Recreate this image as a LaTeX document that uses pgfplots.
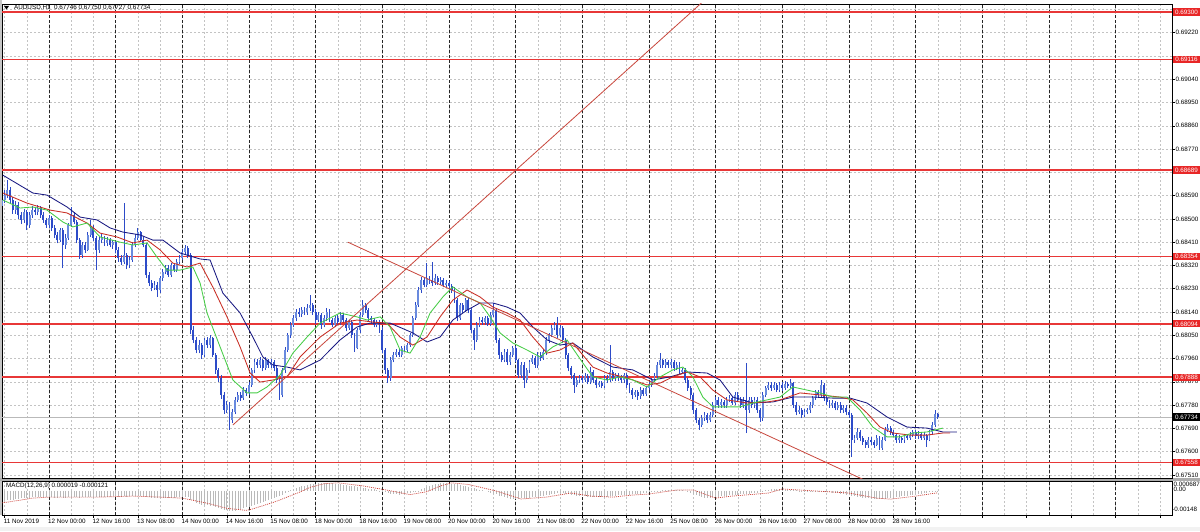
\documentclass[border=0pt]{standalone}
\usepackage{pgfplots}
\pgfplotsset{compat=1.18}
\usepackage{pgfplotstable}
\usepackage{fontspec}
\setmainfont{Liberation Sans}
\definecolor{candlec}{RGB}{45,75,200}
\definecolor{candlebull}{RGB}{105,138,222}
\definecolor{jawc}{RGB}{25,25,130}
\definecolor{teethc}{RGB}{200,45,35}
\definecolor{lipsc}{RGB}{70,205,70}
\definecolor{lvlred}{RGB}{232,55,55}
\definecolor{trendc}{RGB}{200,70,60}
\definecolor{gridc}{RGB}{195,195,195}
\definecolor{lblred}{RGB}{232,38,38}
\newcommand{\tk}{\fontsize{6.3}{7}\selectfont}

\pgfplotstableread{
b o h l c m
7 0.68550 0.68590 0.68530 0.68573 -0.00071
8 0.68573 0.68610 0.68560 0.68592 -0.00068
9 0.68592 0.68650 0.68580 0.68611 -0.00065
10 0.68611 0.68625 0.68560 0.68573 -0.00062
11 0.68573 0.68585 0.68520 0.68534 -0.00059
12 0.68534 0.68570 0.68520 0.68553 -0.00055
13 0.68553 0.68565 0.68500 0.68515 -0.00052
14 0.68515 0.68525 0.68480 0.68496 -0.00049
15 0.68496 0.68540 0.68485 0.68527 -0.00048
16 0.68527 0.68535 0.68457 0.68476 -0.00047
17 0.68476 0.68525 0.68465 0.68515 -0.00046
18 0.68515 0.68550 0.68505 0.68534 -0.00044
19 0.68534 0.68545 0.68515 0.68527 -0.00043
20 0.68527 0.68555 0.68515 0.68542 -0.00042
21 0.68542 0.68550 0.68505 0.68515 -0.00042
22 0.68515 0.68525 0.68485 0.68496 -0.00043
23 0.68496 0.68505 0.68465 0.68476 -0.00044
24 0.68476 0.68515 0.68465 0.68503 -0.00043
25 0.68503 0.68510 0.68455 0.68465 -0.00044
26 0.68465 0.68475 0.68425 0.68438 -0.00045
27 0.68438 0.68450 0.68405 0.68418 -0.00046
28 0.68418 0.68465 0.68410 0.68457 -0.00044
29 0.68457 0.68465 0.68310 0.68399 -0.00046
30 0.68399 0.68440 0.68385 0.68426 -0.00045
31 0.68426 0.68485 0.68420 0.68476 -0.00042
32 0.68476 0.68546 0.68470 0.68515 -0.00039
33 0.68515 0.68525 0.68480 0.68488 -0.00039
34 0.68488 0.68495 0.68405 0.68418 -0.00042
35 0.68418 0.68425 0.68345 0.68360 -0.00045
36 0.68360 0.68410 0.68350 0.68399 -0.00044
37 0.68399 0.68410 0.68370 0.68381 -0.00044
38 0.68381 0.68450 0.68375 0.68438 -0.00042
39 0.68438 0.68496 0.68430 0.68465 -0.00040
40 0.68465 0.68475 0.68415 0.68426 -0.00040
41 0.68426 0.68435 0.68302 0.68381 -0.00041
42 0.68381 0.68430 0.68370 0.68418 -0.00040
43 0.68418 0.68440 0.68405 0.68426 -0.00039
44 0.68426 0.68435 0.68395 0.68407 -0.00039
45 0.68407 0.68430 0.68395 0.68418 -0.00038
46 0.68418 0.68425 0.68390 0.68399 -0.00038
47 0.68399 0.68420 0.68385 0.68410 -0.00037
48 0.68410 0.68415 0.68370 0.68381 -0.00037
49 0.68381 0.68390 0.68335 0.68349 -0.00038
50 0.68349 0.68360 0.68320 0.68333 -0.00039
51 0.68333 0.68561 0.68325 0.68360 -0.00037
52 0.68360 0.68370 0.68305 0.68321 -0.00038
53 0.68321 0.68355 0.68310 0.68341 -0.00037
54 0.68341 0.68410 0.68335 0.68399 -0.00035
55 0.68399 0.68440 0.68390 0.68426 -0.00033
56 0.68426 0.68465 0.68420 0.68449 -0.00032
57 0.68449 0.68455 0.68410 0.68418 -0.00033
58 0.68418 0.68430 0.68390 0.68399 -0.00035
59 0.68399 0.68405 0.68270 0.68283 -0.00040
60 0.68283 0.68295 0.68240 0.68252 -0.00044
61 0.68252 0.68265 0.68220 0.68233 -0.00047
62 0.68233 0.68260 0.68225 0.68244 -0.00048
63 0.68244 0.68255 0.68198 0.68225 -0.00050
64 0.68225 0.68280 0.68215 0.68271 -0.00049
65 0.68271 0.68305 0.68260 0.68294 -0.00048
66 0.68294 0.68320 0.68285 0.68310 -0.00046
67 0.68310 0.68320 0.68275 0.68283 -0.00046
68 0.68283 0.68330 0.68275 0.68321 -0.00045
69 0.68321 0.68330 0.68295 0.68302 -0.00045
70 0.68302 0.68345 0.68295 0.68333 -0.00044
71 0.68333 0.68360 0.68325 0.68349 -0.00043
72 0.68349 0.68385 0.68340 0.68372 -0.00042
73 0.68372 0.68399 0.68360 0.68387 -0.00041
74 0.68387 0.68395 0.68350 0.68360 -0.00043
75 0.68360 0.68370 0.68055 0.68070 -0.00060
76 0.68070 0.68085 0.68020 0.68032 -0.00072
77 0.68032 0.68045 0.67980 0.67993 -0.00083
78 0.67993 0.68030 0.67980 0.68012 -0.00089
79 0.68012 0.68020 0.67960 0.67974 -0.00095
80 0.67974 0.68040 0.67965 0.68032 -0.00097
81 0.68032 0.68045 0.68000 0.68012 -0.00099
82 0.68012 0.68051 0.68000 0.68039 -0.00100
83 0.68039 0.68045 0.67965 0.67974 -0.00104
84 0.67974 0.67980 0.67900 0.67916 -0.00110
85 0.67916 0.67925 0.67870 0.67885 -0.00116
86 0.67885 0.67895 0.67805 0.67819 -0.00123
87 0.67819 0.67830 0.67745 0.67761 -0.00130
88 0.67761 0.67795 0.67750 0.67780 -0.00133
89 0.67780 0.67790 0.67684 0.67722 -0.00138
90 0.67722 0.67765 0.67710 0.67753 -0.00138
91 0.67753 0.67810 0.67745 0.67800 -0.00135
92 0.67800 0.67830 0.67790 0.67819 -0.00130
93 0.67819 0.67830 0.67795 0.67807 -0.00125
94 0.67807 0.67850 0.67800 0.67838 -0.00119
95 0.67838 0.67845 0.67815 0.67827 -0.00113
96 0.67827 0.67870 0.67820 0.67858 -0.00107
97 0.67858 0.67925 0.67850 0.67916 -0.00100
98 0.67916 0.67960 0.67905 0.67947 -0.00094
99 0.67947 0.67960 0.67925 0.67935 -0.00088
100 0.67935 0.67965 0.67925 0.67954 -0.00083
101 0.67954 0.67960 0.67910 0.67923 -0.00077
102 0.67923 0.67965 0.67915 0.67954 -0.00070
103 0.67954 0.67960 0.67925 0.67935 -0.00063
104 0.67935 0.67960 0.67925 0.67947 -0.00056
105 0.67947 0.67955 0.67910 0.67923 -0.00049
106 0.67923 0.67930 0.67865 0.67877 -0.00042
107 0.67877 0.67885 0.67800 0.67819 -0.00036
108 0.67819 0.67925 0.67810 0.67916 -0.00026
109 0.67916 0.68005 0.67905 0.67993 -0.00016
110 0.67993 0.68060 0.67985 0.68051 -0.00006
111 0.68051 0.68100 0.68040 0.68090 0.00004
112 0.68090 0.68130 0.68080 0.68117 0.00013
113 0.68117 0.68150 0.68105 0.68140 0.00021
114 0.68140 0.68155 0.68120 0.68132 0.00027
115 0.68132 0.68160 0.68120 0.68147 0.00032
116 0.68147 0.68160 0.68130 0.68140 0.00037
117 0.68140 0.68170 0.68130 0.68155 0.00042
118 0.68155 0.68205 0.68145 0.68167 0.00047
119 0.68167 0.68175 0.68130 0.68140 0.00050
120 0.68140 0.68150 0.68095 0.68109 0.00051
121 0.68109 0.68140 0.68100 0.68128 0.00053
122 0.68128 0.68135 0.68075 0.68090 0.00054
123 0.68090 0.68130 0.68080 0.68117 0.00055
124 0.68117 0.68155 0.68105 0.68140 0.00056
125 0.68140 0.68150 0.68100 0.68109 0.00054
126 0.68109 0.68115 0.68080 0.68090 0.00052
127 0.68090 0.68125 0.68080 0.68117 0.00050
128 0.68117 0.68130 0.68090 0.68101 0.00047
129 0.68101 0.68140 0.68090 0.68128 0.00045
130 0.68128 0.68135 0.68100 0.68109 0.00042
131 0.68109 0.68115 0.68065 0.68078 0.00040
132 0.68078 0.68110 0.68070 0.68101 0.00037
133 0.68101 0.68110 0.68040 0.68051 0.00035
134 0.68051 0.68060 0.67985 0.68001 0.00032
135 0.68001 0.68080 0.67995 0.68070 0.00029
136 0.68070 0.68140 0.68060 0.68128 0.00026
137 0.68128 0.68186 0.68120 0.68167 0.00023
138 0.68167 0.68175 0.68135 0.68147 0.00020
139 0.68147 0.68155 0.68105 0.68117 0.00017
140 0.68117 0.68125 0.68095 0.68109 0.00014
141 0.68109 0.68115 0.68080 0.68090 0.00011
142 0.68090 0.68110 0.68080 0.68101 0.00008
143 0.68101 0.68110 0.68060 0.68070 0.00003
144 0.68070 0.68080 0.67980 0.67993 -0.00003
145 0.67993 0.68000 0.67900 0.67916 -0.00010
146 0.67916 0.67925 0.67865 0.67885 -0.00015
147 0.67885 0.67965 0.67875 0.67954 -0.00018
148 0.67954 0.67985 0.67945 0.67974 -0.00021
149 0.67974 0.67995 0.67965 0.67985 -0.00023
150 0.67985 0.67995 0.67965 0.67974 -0.00025
151 0.67974 0.68010 0.67965 0.68001 -0.00022
152 0.68001 0.68010 0.67985 0.67993 -0.00019
153 0.67993 0.68020 0.67985 0.68012 -0.00016
154 0.68012 0.68060 0.68005 0.68051 -0.00012
155 0.68051 0.68125 0.68045 0.68117 -0.00009
156 0.68117 0.68180 0.68110 0.68167 -0.00005
157 0.68167 0.68235 0.68160 0.68225 0.00003
158 0.68225 0.68275 0.68215 0.68264 0.00011
159 0.68264 0.68275 0.68235 0.68244 0.00019
160 0.68244 0.68329 0.68235 0.68271 0.00027
161 0.68271 0.68280 0.68250 0.68264 0.00035
162 0.68264 0.68333 0.68240 0.68252 0.00040
163 0.68252 0.68285 0.68245 0.68271 0.00045
164 0.68271 0.68280 0.68245 0.68256 0.00050
165 0.68256 0.68275 0.68245 0.68264 0.00056
166 0.68264 0.68270 0.68235 0.68244 0.00054
167 0.68244 0.68265 0.68235 0.68252 0.00052
168 0.68252 0.68260 0.68230 0.68240 0.00050
169 0.68240 0.68250 0.68215 0.68225 0.00049
170 0.68225 0.68235 0.68175 0.68186 0.00047
171 0.68186 0.68195 0.68105 0.68117 0.00045
172 0.68117 0.68175 0.68110 0.68167 0.00041
173 0.68167 0.68175 0.68135 0.68147 0.00036
174 0.68147 0.68195 0.68140 0.68186 0.00032
175 0.68186 0.68195 0.68135 0.68147 0.00027
176 0.68147 0.68155 0.68060 0.68070 0.00023
177 0.68070 0.68080 0.67993 0.68032 0.00018
178 0.68032 0.68100 0.68025 0.68090 0.00014
179 0.68090 0.68120 0.68080 0.68109 0.00009
180 0.68109 0.68120 0.68090 0.68101 0.00005
181 0.68101 0.68125 0.68090 0.68117 0.00000
182 0.68117 0.68125 0.68085 0.68094 -0.00006
183 0.68094 0.68140 0.68085 0.68128 -0.00012
184 0.68128 0.68175 0.68120 0.68147 -0.00018
185 0.68147 0.68155 0.68020 0.68032 -0.00024
186 0.68032 0.68040 0.67960 0.67974 -0.00031
187 0.67974 0.67985 0.67945 0.67954 -0.00037
188 0.67954 0.67995 0.67945 0.67985 -0.00043
189 0.67985 0.67995 0.67935 0.67947 -0.00049
190 0.67947 0.67985 0.67935 0.67974 -0.00055
191 0.67974 0.68010 0.67965 0.68001 -0.00054
192 0.68001 0.68010 0.67945 0.67954 -0.00053
193 0.67954 0.67960 0.67885 0.67896 -0.00052
194 0.67896 0.67945 0.67885 0.67935 -0.00050
195 0.67935 0.67945 0.67846 0.67877 -0.00049
196 0.67877 0.67925 0.67865 0.67916 -0.00048
197 0.67916 0.67955 0.67905 0.67947 -0.00046
198 0.67947 0.67975 0.67940 0.67962 -0.00044
199 0.67962 0.67970 0.67925 0.67935 -0.00042
200 0.67935 0.67985 0.67925 0.67974 -0.00039
201 0.67974 0.67985 0.67950 0.67962 -0.00036
202 0.67962 0.67995 0.67955 0.67985 -0.00033
203 0.67985 0.68045 0.67975 0.68032 -0.00030
204 0.68032 0.68060 0.68020 0.68051 -0.00027
205 0.68051 0.68090 0.68045 0.68078 -0.00023
206 0.68078 0.68100 0.68070 0.68090 -0.00020
207 0.68090 0.68120 0.68040 0.68051 -0.00017
208 0.68051 0.68090 0.68045 0.68078 -0.00014
209 0.68078 0.68085 0.68020 0.68032 -0.00017
210 0.68032 0.68040 0.67960 0.67974 -0.00020
211 0.67974 0.67980 0.67910 0.67923 -0.00023
212 0.67923 0.67930 0.67880 0.67896 -0.00026
213 0.67896 0.67905 0.67827 0.67858 -0.00029
214 0.67858 0.67890 0.67850 0.67877 -0.00032
215 0.67877 0.67895 0.67865 0.67885 -0.00035
216 0.67885 0.67895 0.67865 0.67877 -0.00036
217 0.67877 0.67905 0.67870 0.67892 -0.00037
218 0.67892 0.67900 0.67860 0.67869 -0.00038
219 0.67869 0.67927 0.67860 0.67908 -0.00039
220 0.67908 0.67915 0.67865 0.67877 -0.00040
221 0.67877 0.67885 0.67845 0.67858 -0.00041
222 0.67858 0.67875 0.67850 0.67865 -0.00041
223 0.67865 0.67875 0.67845 0.67854 -0.00042
224 0.67854 0.67895 0.67845 0.67885 -0.00040
225 0.67885 0.67895 0.67865 0.67877 -0.00038
226 0.67877 0.68012 0.67870 0.67908 -0.00036
227 0.67908 0.67915 0.67875 0.67885 -0.00034
228 0.67885 0.67905 0.67875 0.67896 -0.00032
229 0.67896 0.67905 0.67875 0.67885 -0.00030
230 0.67885 0.67895 0.67865 0.67877 -0.00028
231 0.67877 0.67905 0.67865 0.67896 -0.00027
232 0.67896 0.67905 0.67845 0.67858 -0.00026
233 0.67858 0.67865 0.67825 0.67838 -0.00025
234 0.67838 0.67845 0.67805 0.67819 -0.00024
235 0.67819 0.67840 0.67810 0.67831 -0.00022
236 0.67831 0.67840 0.67800 0.67815 -0.00021
237 0.67815 0.67850 0.67805 0.67838 -0.00018
238 0.67838 0.67845 0.67815 0.67823 -0.00015
239 0.67823 0.67855 0.67815 0.67846 -0.00013
240 0.67846 0.67870 0.67840 0.67858 -0.00010
241 0.67858 0.67885 0.67850 0.67877 -0.00007
242 0.67877 0.67905 0.67870 0.67892 -0.00004
243 0.67892 0.67945 0.67885 0.67935 -0.00001
244 0.67935 0.67981 0.67925 0.67954 0.00002
245 0.67954 0.67960 0.67925 0.67935 0.00005
246 0.67935 0.67960 0.67925 0.67947 0.00007
247 0.67947 0.67955 0.67925 0.67935 0.00007
248 0.67935 0.67960 0.67925 0.67947 0.00007
249 0.67947 0.67955 0.67910 0.67923 0.00007
250 0.67923 0.67945 0.67915 0.67935 0.00007
251 0.67935 0.67945 0.67900 0.67908 0.00006
252 0.67908 0.67925 0.67900 0.67916 0.00004
253 0.67916 0.67925 0.67865 0.67877 0.00000
254 0.67877 0.67885 0.67835 0.67846 -0.00007
255 0.67846 0.67855 0.67805 0.67819 -0.00014
256 0.67819 0.67825 0.67745 0.67761 -0.00021
257 0.67761 0.67770 0.67710 0.67722 -0.00028
258 0.67722 0.67730 0.67684 0.67703 -0.00035
259 0.67703 0.67740 0.67695 0.67730 -0.00042
260 0.67730 0.67755 0.67720 0.67742 -0.00049
261 0.67742 0.67750 0.67710 0.67722 -0.00047
262 0.67722 0.67755 0.67715 0.67742 -0.00045
263 0.67742 0.67790 0.67735 0.67780 -0.00042
264 0.67780 0.67810 0.67770 0.67800 -0.00040
265 0.67800 0.67810 0.67770 0.67780 -0.00038
266 0.67780 0.67805 0.67770 0.67792 -0.00035
267 0.67792 0.67800 0.67770 0.67780 -0.00033
268 0.67780 0.67810 0.67770 0.67800 -0.00031
269 0.67800 0.67820 0.67790 0.67807 -0.00030
270 0.67807 0.67815 0.67780 0.67788 -0.00028
271 0.67788 0.67830 0.67780 0.67819 -0.00027
272 0.67819 0.67830 0.67790 0.67800 -0.00025
273 0.67800 0.67810 0.67770 0.67780 -0.00023
274 0.67780 0.67810 0.67770 0.67800 -0.00022
275 0.67800 0.67943 0.67672 0.67761 -0.00020
276 0.67761 0.67810 0.67750 0.67800 -0.00019
277 0.67800 0.67810 0.67770 0.67780 -0.00017
278 0.67780 0.67810 0.67770 0.67800 -0.00016
279 0.67800 0.67810 0.67750 0.67761 -0.00014
280 0.67761 0.67770 0.67715 0.67730 -0.00008
281 0.67730 0.67830 0.67720 0.67819 -0.00002
282 0.67819 0.67855 0.67810 0.67846 0.00004
283 0.67846 0.67870 0.67840 0.67858 0.00009
284 0.67858 0.67870 0.67835 0.67846 0.00014
285 0.67846 0.67870 0.67840 0.67858 0.00013
286 0.67858 0.67865 0.67830 0.67838 0.00012
287 0.67838 0.67870 0.67830 0.67858 0.00011
288 0.67858 0.67870 0.67835 0.67846 0.00010
289 0.67846 0.67875 0.67840 0.67861 0.00009
290 0.67861 0.67870 0.67845 0.67854 0.00008
291 0.67854 0.67880 0.67845 0.67865 0.00007
292 0.67865 0.67870 0.67770 0.67780 0.00005
293 0.67780 0.67790 0.67740 0.67753 0.00004
294 0.67753 0.67775 0.67745 0.67761 0.00003
295 0.67761 0.67770 0.67730 0.67742 0.00002
296 0.67742 0.67765 0.67735 0.67753 0.00001
297 0.67753 0.67770 0.67745 0.67761 -0.00001
298 0.67761 0.67790 0.67750 0.67780 -0.00002
299 0.67780 0.67815 0.67770 0.67807 -0.00003
300 0.67807 0.67840 0.67800 0.67831 -0.00004
301 0.67831 0.67840 0.67810 0.67819 -0.00005
302 0.67819 0.67877 0.67810 0.67858 -0.00006
303 0.67858 0.67865 0.67795 0.67807 -0.00007
304 0.67807 0.67815 0.67780 0.67792 -0.00009
305 0.67792 0.67800 0.67770 0.67780 -0.00010
306 0.67780 0.67800 0.67770 0.67788 -0.00011
307 0.67788 0.67795 0.67760 0.67769 -0.00012
308 0.67769 0.67790 0.67760 0.67780 -0.00014
309 0.67780 0.67790 0.67750 0.67761 -0.00018
310 0.67761 0.67780 0.67750 0.67769 -0.00021
311 0.67769 0.67780 0.67740 0.67753 -0.00025
312 0.67753 0.67760 0.67730 0.67742 -0.00028
313 0.67742 0.67750 0.67579 0.67645 -0.00032
314 0.67645 0.67665 0.67635 0.67653 -0.00035
315 0.67653 0.67690 0.67645 0.67676 -0.00039
316 0.67676 0.67685 0.67640 0.67653 -0.00042
317 0.67653 0.67660 0.67625 0.67637 -0.00046
318 0.67637 0.67645 0.67615 0.67626 -0.00049
319 0.67626 0.67655 0.67615 0.67645 -0.00050
320 0.67645 0.67655 0.67625 0.67637 -0.00052
321 0.67637 0.67645 0.67615 0.67626 -0.00053
322 0.67626 0.67665 0.67620 0.67653 -0.00055
323 0.67653 0.67660 0.67606 0.67614 -0.00056
324 0.67614 0.67655 0.67606 0.67645 -0.00054
325 0.67645 0.67695 0.67640 0.67684 -0.00052
326 0.67684 0.67705 0.67675 0.67691 -0.00049
327 0.67691 0.67700 0.67665 0.67676 -0.00047
328 0.67676 0.67685 0.67655 0.67664 -0.00045
329 0.67664 0.67670 0.67635 0.67645 -0.00042
330 0.67645 0.67665 0.67635 0.67653 -0.00040
331 0.67653 0.67660 0.67635 0.67645 -0.00037
332 0.67645 0.67670 0.67635 0.67660 -0.00035
333 0.67660 0.67670 0.67645 0.67653 -0.00033
334 0.67653 0.67675 0.67645 0.67664 -0.00030
335 0.67664 0.67685 0.67655 0.67676 -0.00028
336 0.67676 0.67685 0.67650 0.67660 -0.00026
337 0.67660 0.67680 0.67650 0.67668 -0.00023
338 0.67668 0.67675 0.67645 0.67653 -0.00021
339 0.67653 0.67675 0.67645 0.67664 -0.00017
340 0.67664 0.67670 0.67618 0.67645 -0.00013
341 0.67645 0.67685 0.67640 0.67676 -0.00009
342 0.67676 0.67715 0.67670 0.67703 -0.00005
343 0.67703 0.67760 0.67695 0.67746 -0.00002
344 0.67746 0.67750 0.67727 0.67734 0.00002
}\candles

\pgfplotsset{
  mtgrid/.style={
    xtick={8,24,...,424}, minor xtick={16,32,...,416},
    grid=both,
    major grid style={gridc, line width=0.5pt, dash pattern=on 2pt off 2pt},
    minor grid style={gridc, line width=0.5pt, dash pattern=on 2pt off 2pt},
    extra x ticks={24,48,72,96,120,144,168,192,216,240,264,288,312,336,360,384,408},
    extra x tick labels={},
    extra x tick style={grid=major, major grid style={black!85, line width=0.6pt, dash pattern=on 3pt off 2pt}, tick style={draw=none}},
    minor tick length=0pt,
  },
  lvl/.style={draw=lvlred, line width=1.6pt, forget plot},
}

\begin{document}
\begin{tikzpicture}[x=1pt,y=1pt]
\useasboundingbox (0,0) rectangle (1200,531);
\fill[white] (0,0) rectangle (1200,531);
\fill[gray!10] (0,0) rectangle (1200,4);
\fill[gray!45] (0,16) rectangle (2,531);
\fill[gray!65] (0,50.3) rectangle (1200,53);

\begin{axis}[
  at={(2pt,53pt)}, anchor=south west,
  width=1170pt, height=474pt, scale only axis,
  xmin=7.08, xmax=428.3, ymin=0.67498, ymax=0.69331,
  axis line style={black, line width=0.6pt},
  clip mode=individual,
  mtgrid,
  xticklabels={},
  xtick style={draw=none},
  ytick={0.67510,0.67600,0.67690,0.67780,0.67870,0.67960,0.68050,0.68140,0.68230,0.68320,0.68410,0.68500,0.68590,0.68680,0.68770,0.68860,0.68950,0.69040,0.69130,0.69220,0.69310},
  yticklabels={0.67510,0.67600,0.67690,0.67780,0.67870,0.67960,0.68050,0.68140,0.68230,0.68320,0.68410,0.68500,0.68590,{},0.68770,0.68860,0.68950,0.69040,{},0.69220,{}},
  ytick pos=right, yticklabel pos=right,
  tick align=outside, major tick length=3pt,
  ytick style={black, line width=0.5pt},
  yticklabel style={font=\tk, inner sep=0pt, xshift=0.5pt},
  /pgf/number format/assume math mode=true,
]
% horizontal levels
\addplot[lvl] coordinates {(0,0.69300) (440,0.69300)};
\addplot[lvl] coordinates {(0,0.69116) (440,0.69116)};
\addplot[lvl] coordinates {(0,0.68689) (440,0.68689)};
\addplot[lvl] coordinates {(0,0.68354) (440,0.68354)};
\addplot[lvl] coordinates {(0,0.68094) (440,0.68094)};
\addplot[lvl] coordinates {(0,0.67888) (440,0.67888)};
\addplot[lvl] coordinates {(0,0.67558) (440,0.67558)};
\addplot[draw=gray!55, line width=0.5pt, forget plot] coordinates {(0,0.67734) (440,0.67734)};
% candles: wicks and bodies
\addplot[draw=none, mark=none, forget plot, error bars/.cd, y dir=plus, y explicit, error mark=none,
  error bar style={draw=candlec, line width=0.8pt}]
  table[x=b, y=l, y error expr={\thisrow{h}-\thisrow{l}}] {\candles};
\addplot[draw=none, mark=none, forget plot, error bars/.cd, y dir=plus, y explicit, error mark=none,
  error bar style={draw=candlebull, line width=1.9pt}]
  table[x=b, y=o, y error expr={max(\thisrow{c}-\thisrow{o},0)}] {\candles};
\addplot[draw=none, mark=none, forget plot, error bars/.cd, y dir=plus, y explicit, error mark=none,
  error bar style={draw=candlec, line width=1.9pt}]
  table[x=b, y=c, y error expr={max(\thisrow{o}-\thisrow{c},0)}] {\candles};
% alligator
\addplot[draw=jawc, line width=0.85pt, forget plot] coordinates {(7.4,0.68669)(18.2,0.68600)(23.3,0.68592)(30.5,0.68546)(35.2,0.68507)(41.3,0.68496)(46,0.68465)(50.6,0.68449)(56.8,0.68438)(61.4,0.68418)(65,0.68418)(71.2,0.68368)(78.4,0.68345)(82,0.68341)(86.6,0.68213)(92.8,0.68136)(97.4,0.68043)(101,0.67966)(104.6,0.67935)(109.7,0.67927)(114.4,0.67916)(121.6,0.67954)(128.8,0.68032)(134.9,0.68082)(139.6,0.68097)(146.8,0.68097)(155,0.68059)(160.1,0.68024)(164.8,0.68043)(169.4,0.68109)(174.5,0.68147)(179.2,0.68175)(183.8,0.68175)(188.9,0.68159)(193.6,0.68136)(198.2,0.68082)(203.3,0.68032)(208,0.68012)(212.6,0.68020)(219.8,0.67966)(227,0.67927)(234.2,0.67916)(241.4,0.67877)(247.6,0.67889)(253.7,0.67908)(260.9,0.67904)(265.6,0.67877)(270.2,0.67811)(277.4,0.67788)(284.6,0.67792)(291.8,0.67811)(299.1,0.67811)(306.2,0.67807)(312.4,0.67807)(318.5,0.67788)(325.7,0.67734)(332.9,0.67695)(340.1,0.67691)(345.8,0.67676)(350.9,0.67676)};
\addplot[draw=teethc, line width=0.85pt, forget plot] coordinates {(7.4,0.68600)(16.1,0.68561)(24.4,0.68534)(30.5,0.68523)(37.7,0.68484)(42.4,0.68445)(48.5,0.68430)(54.2,0.68407)(59.3,0.68418)(64,0.68380)(68.6,0.68329)(73.7,0.68314)(78.4,0.68329)(83,0.68236)(88.1,0.68121)(92.8,0.68005)(96.4,0.67904)(100,0.67869)(104.6,0.67877)(109.7,0.67889)(114.4,0.67966)(121.6,0.68043)(128.8,0.68097)(134.9,0.68109)(140.6,0.68101)(145.7,0.68097)(150.4,0.68043)(155,0.68012)(160.1,0.68043)(164.8,0.68121)(169.4,0.68186)(174.5,0.68225)(179.2,0.68198)(183.8,0.68159)(188.9,0.68136)(193.6,0.68109)(198.2,0.68043)(203.3,0.67981)(208,0.67993)(212.6,0.68020)(219.8,0.67927)(224.9,0.67904)(232.1,0.67885)(239.3,0.67858)(244,0.67865)(248.6,0.67889)(253.7,0.67908)(258.4,0.67889)(263,0.67838)(268.1,0.67800)(275.3,0.67788)(282.5,0.67792)(287.2,0.67800)(294.4,0.67827)(301.6,0.67819)(308.8,0.67811)(313.4,0.67800)(318.5,0.67749)(323.2,0.67695)(327.8,0.67672)(334,0.67664)(340.1,0.67664)(345.8,0.67672)(348.4,0.67672)};
\addplot[draw=lipsc, line width=0.85pt, forget plot] coordinates {(7.4,0.68573)(13.6,0.68542)(18.2,0.68546)(23.3,0.68534)(29,0.68488)(32.6,0.68469)(37.7,0.68484)(42.4,0.68430)(49.6,0.68410)(54.2,0.68399)(59.3,0.68407)(62.9,0.68352)(66.5,0.68302)(71.2,0.68302)(75.8,0.68314)(78.4,0.68252)(80.9,0.68136)(85.6,0.68005)(90.2,0.67877)(95.3,0.67827)(98.9,0.67827)(102.5,0.67850)(107.2,0.67896)(111.8,0.67981)(116.9,0.68043)(121.6,0.68097)(128.8,0.68136)(134.9,0.68121)(138.5,0.68109)(143.2,0.68121)(146.8,0.68082)(150.4,0.67993)(154,0.67981)(157.6,0.68043)(161.2,0.68136)(165.8,0.68198)(169.4,0.68237)(174.5,0.68198)(179.2,0.68175)(182.8,0.68121)(186.4,0.68059)(191,0.68020)(196.1,0.67993)(200.8,0.67966)(205.4,0.68005)(210.5,0.68032)(216.2,0.67943)(219.8,0.67889)(224.9,0.67877)(229.6,0.67889)(234.2,0.67877)(239.3,0.67850)(244,0.67889)(248.6,0.67916)(252.2,0.67927)(255.8,0.67889)(259.4,0.67811)(263,0.67773)(268.1,0.67773)(272.8,0.67773)(277.4,0.67788)(282.5,0.67800)(287.2,0.67811)(291.8,0.67850)(296.9,0.67838)(301.6,0.67827)(306.2,0.67811)(311.3,0.67811)(316,0.67761)(320.6,0.67695)(325.7,0.67657)(330.4,0.67657)(335,0.67672)(340.1,0.67676)(345.8,0.67691)};
% trend lines
\addplot[draw=trendc, line width=0.8pt, forget plot] coordinates {(90.2,0.67703) (262,0.69365)};
\addplot[draw=trendc, line width=0.8pt, forget plot] coordinates {(131.6,0.68410) (320,0.67478)};
% anchors for right labels
\coordinate (r1) at (axis cs:428.3,0.69300);
\coordinate (r2) at (axis cs:428.3,0.69116);
\coordinate (r3) at (axis cs:428.3,0.68689);
\coordinate (r4) at (axis cs:428.3,0.68354);
\coordinate (r5) at (axis cs:428.3,0.68094);
\coordinate (r6) at (axis cs:428.3,0.67888);
\coordinate (r7) at (axis cs:428.3,0.67558);
\coordinate (r8) at (axis cs:428.3,0.67734);
\end{axis}

\begin{axis}[
  at={(2pt,16pt)}, anchor=south west,
  width=1170pt, height=34pt, scale only axis,
  xmin=7.08, xmax=428.3, ymin=-0.00165, ymax=0.000687,
  axis line style={black, line width=0.6pt},
  mtgrid,
  xticklabels={11 Nov 2019,12 Nov 00:00,12 Nov 16:00,13 Nov 08:00,14 Nov 00:00,14 Nov 16:00,15 Nov 08:00,18 Nov 00:00,18 Nov 16:00,19 Nov 08:00,20 Nov 00:00,20 Nov 16:00,21 Nov 08:00,22 Nov 00:00,22 Nov 16:00,25 Nov 08:00,26 Nov 00:00,26 Nov 16:00,27 Nov 08:00,28 Nov 00:00,28 Nov 16:00,{},{},{},{},{},{}},
  xtick pos=bottom, tick align=outside, major tick length=2.5pt,
  xtick style={black, line width=0.5pt},
  xticklabel style={font=\tk, anchor=north west, inner sep=0pt, xshift=-1pt, yshift=-1pt},
  ytick=\empty,
]
\addplot[ycomb, draw=gray!55, line width=0.7pt, mark=none, forget plot] table[x=b, y=m] {\candles};
\addplot[draw=teethc!90, line width=0.7pt, dash pattern=on 1pt off 1pt, forget plot] coordinates {(7,-0.00082)(14,-0.00062)(18,-0.00049)(24,-0.00042)(42,-0.00042)(54,-0.00035)(64,-0.00042)(72,-0.00049)(81,-0.00084)(88,-0.00119)(95,-0.00133)(97,-0.00125)(105,-0.00077)(110,-0.00040)(114,-0.00010)(118,0.00025)(123,0.00050)(128,0.00056)(137,0.00035)(146,0.00005)(154,-0.00025)(160,-0.00005)(165,0.00035)(169,0.00056)(175,0.00045)(185,0.00000)(194,-0.00055)(203,-0.00042)(212,-0.00014)(219,-0.00035)(227,-0.00042)(234,-0.00028)(240,-0.00021)(250,0.00007)(256,0.00007)(264,-0.00049)(270,-0.00035)(283,-0.00014)(288,0.00014)(300,0.00000)(312,-0.00014)(322,-0.00049)(327,-0.00056)(336,-0.00035)(344,-0.00012)};
\end{axis}

% right price labels
\foreach \c/\v in {r1/0.69300,r2/0.69116,r3/0.68689,r4/0.68354,r5/0.68094,r6/0.67888,r7/0.67558}{
  \node[fill=lblred, text=white, font=\tk, anchor=west, inner xsep=1pt, inner ysep=1.3pt,
        text height=4.6pt, text depth=0pt, minimum width=27pt] at ([xshift=0.8pt]\c) {\v};
}
\node[fill=black, text=white, font=\tk, anchor=west, inner xsep=1pt, inner ysep=1.3pt,
      text height=4.6pt, text depth=0pt, minimum width=27pt] at ([xshift=0.8pt]r8) {0.67734};

% MACD scale labels
\node[font=\tk, anchor=west, inner sep=0pt] at (1173.5,47) {0.000687};
\node[font=\tk, anchor=west, inner sep=0pt] at (1173.5,41.5) {0.00};
\node[font=\tk, anchor=west, inner sep=0pt] at (1172,22) {-0.00148};

% headers
\fill[black] (4,525) -- (9,525) -- (6.5,521.5) -- cycle;
\node[font=\tk, anchor=west, inner sep=0pt] at (14,523) {AUDUSD,H1\ \ 0.67746 0.67750 0.67727 0.67734};
\node[font=\tk, anchor=west, inner sep=0pt, fill=white] at (6,45.5) {MACD(12,26,9) 0.000019 -0.000121};
\end{tikzpicture}
\end{document}
